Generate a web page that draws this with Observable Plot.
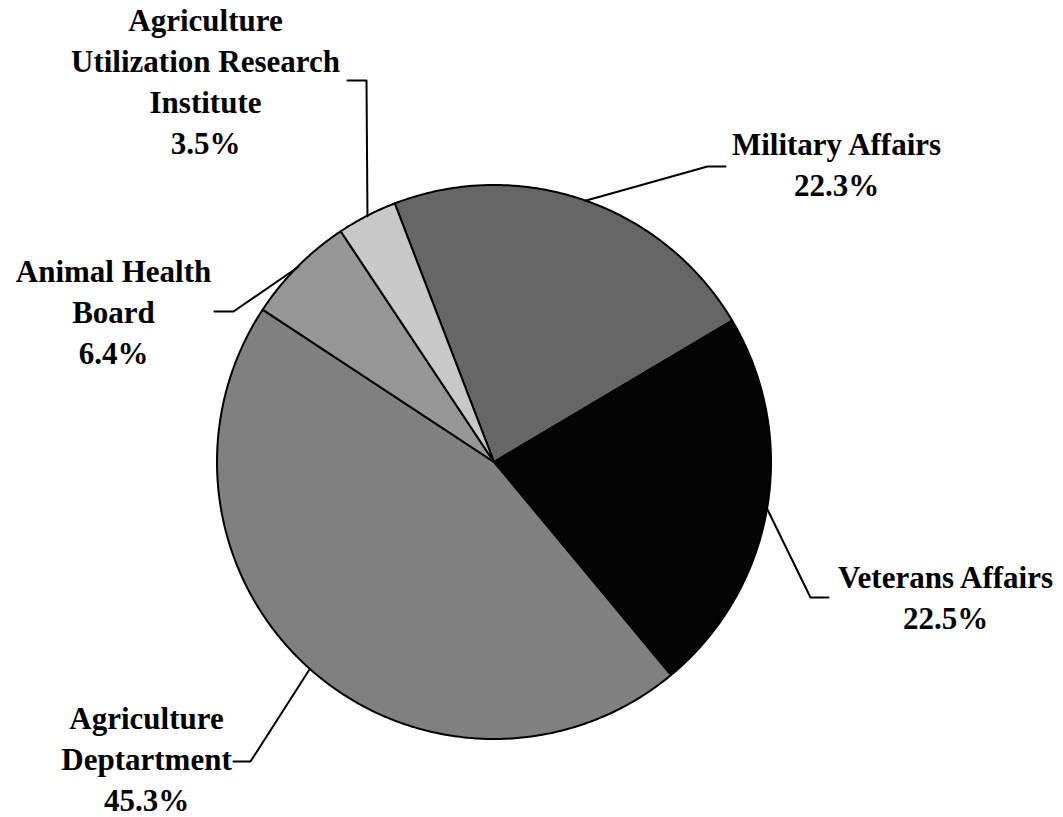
<!DOCTYPE html>
<html><head><meta charset="utf-8">
<script src="https://cdn.jsdelivr.net/npm/d3@7"></script>
<script src="https://cdn.jsdelivr.net/npm/@observablehq/plot@0.6"></script>
<style>body{margin:0;background:#fff} #chart svg{display:block}</style>
</head><body><div id="chart"></div>
<script>
// ---- data ----
const agencies = ["Military Affairs","Veterans Affairs","Agriculture Deptartment","Animal Health Board","Agriculture Utilization Research Institute"];
const shares = [22.3, 22.5, 45.3, 6.4, 3.5];
const labelLines = [["Military Affairs"],["Veterans Affairs"],["Agriculture","Deptartment"],["Animal Health","Board"],["Agriculture","Utilization Research","Institute"]];
const sliceColors = ["#666666","#040404","#808080","#969696","#c8c8c8"];

// ---- layout ----
const W = 1063, H = 817, CX = 494, CY = 462, R = 277;
const START_DEG = -21;
const labelLayout = [
  {tx: 836, ty: 195, elbow: [707,166], end: [725,166]},
  {tx: 945, ty: 628, elbow: [810,597], end: [828,597]},
  {tx: 146, ty: 810, elbow: [250,761], end: [233,761]},
  {tx: 113, ty: 363, elbow: [233,311], end: [214,311]},
  {tx: 205, ty: 153, elbow: [366,80],  end: [347,80]}
];
const px2x = px => (px - CX) / R;
const py2y = py => (CY - py) / R;

const start = START_DEG * Math.PI / 180;
const arcs = d3.pie().sort(null).startAngle(start).endAngle(start + 2 * Math.PI)(shares);

const sliceRows = [];
arcs.forEach((a, i) => {
  const n = Math.max(2, Math.ceil((a.endAngle - a.startAngle) / (Math.PI / 360)));
  for (let k = 0; k <= n; k++) {
    const t = a.startAngle + (a.endAngle - a.startAngle) * k / n;
    sliceRows.push({agency: agencies[i], x: Math.sin(t), y: Math.cos(t), x0: 0, y0: 0});
  }
});

const leaderRows = [];
arcs.forEach((a, i) => {
  const m = (a.startAngle + a.endAngle) / 2;
  const L = labelLayout[i];
  leaderRows.push({agency: agencies[i], x: Math.sin(m), y: Math.cos(m)});
  leaderRows.push({agency: agencies[i], x: px2x(L.elbow[0]), y: py2y(L.elbow[1])});
  leaderRows.push({agency: agencies[i], x: px2x(L.end[0]), y: py2y(L.end[1])});
});

const labelRows = agencies.map((name, i) => ({
  agency: name,
  x: px2x(labelLayout[i].tx),
  y: py2y(labelLayout[i].ty),
  text: labelLines[i].join("\n") + "\n" + shares[i].toFixed(1) + "%"
}));

const chart = Plot.plot({
  width: W, height: H,
  margin: 0,
  x: {domain: [px2x(0), px2x(W)], axis: null},
  y: {domain: [py2y(H), py2y(0)], axis: null},
  color: {domain: agencies, range: sliceColors},
  style: {background: "#fff"},
  marks: [
    Plot.area(sliceRows, {x1: "x", y1: "y", x2: "x0", y2: "y0", z: "agency", fill: "agency", stroke: "#000", strokeWidth: 2, strokeLinejoin: "round", curve: "linear"}),
    Plot.line(leaderRows, {x: "x", y: "y", z: "agency", stroke: "#000", strokeWidth: 2}),
    Plot.text(labelRows, {x: "x", y: "y", text: "text", textAnchor: "middle", lineAnchor: "bottom", lineHeight: 1.32, fontSize: 31, fontWeight: "bold", fontFamily: "'Liberation Serif','Times New Roman',serif", fill: "#000"})
  ]
});
document.getElementById("chart").appendChild(chart);
</script>
</body></html>
